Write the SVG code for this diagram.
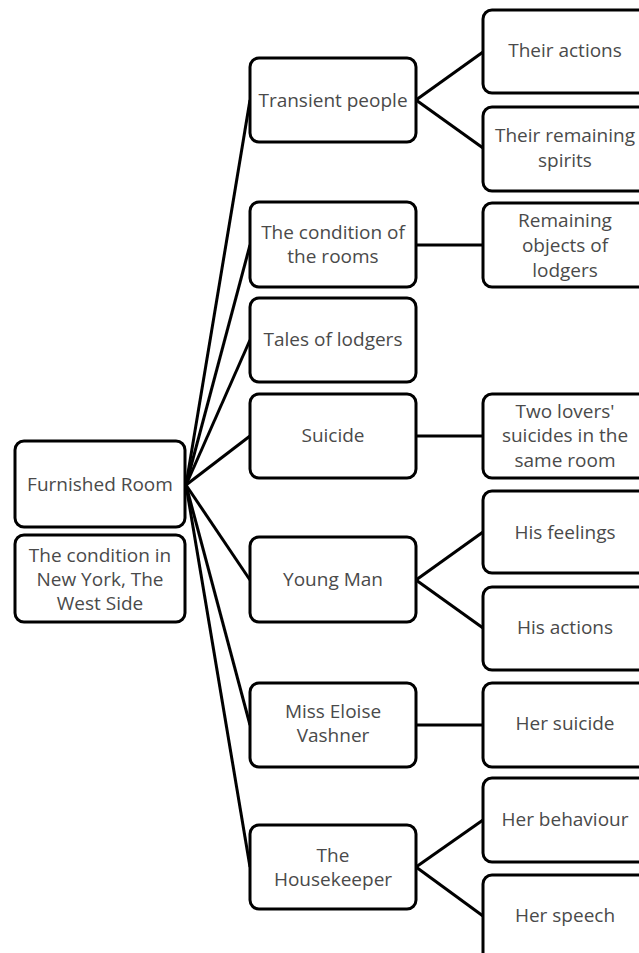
<svg xmlns="http://www.w3.org/2000/svg" width="639" height="953" viewBox="0 0 639 953">
<style>
.box{fill:#fff;stroke:#000;stroke-width:3}
.t{font-family:"Open Sans","Noto Sans",sans-serif;font-size:19px;fill:#4a4a4a;text-anchor:middle}
.c{stroke:#000;stroke-width:3;fill:none}
</style>
<rect width="639" height="953" fill="#fff"/>
<g id="connectors">
<line class="c" x1="186" y1="485" x2="250" y2="100"/>
<line class="c" x1="186" y1="485" x2="250" y2="245"/>
<line class="c" x1="186" y1="485" x2="250" y2="340"/>
<line class="c" x1="186" y1="485" x2="250" y2="436"/>
<line class="c" x1="186" y1="485" x2="250" y2="580"/>
<line class="c" x1="186" y1="485" x2="250" y2="725"/>
<line class="c" x1="186" y1="485" x2="250" y2="867"/>
<line class="c" x1="416" y1="100" x2="483" y2="52"/>
<line class="c" x1="416" y1="100" x2="483" y2="148"/>
<line class="c" x1="416" y1="245" x2="483" y2="245"/>
<line class="c" x1="416" y1="436" x2="483" y2="436"/>
<line class="c" x1="416" y1="580" x2="483" y2="532"/>
<line class="c" x1="416" y1="580" x2="483" y2="628"/>
<line class="c" x1="416" y1="725" x2="483" y2="725"/>
<line class="c" x1="416" y1="867" x2="483" y2="820"/>
<line class="c" x1="416" y1="867" x2="483" y2="916"/>
</g>
<g id="furnished-room"><rect class="box" x="15" y="441" width="170" height="86" rx="9"/><text class="t" x="100" y="491">Furnished Room</text></g>
<g id="new-york"><rect class="box" x="15" y="535" width="170" height="87" rx="9"/><text class="t" x="100" y="562">The condition in</text><text class="t" x="100" y="586">New York, The</text><text class="t" x="100" y="610">West Side</text></g>
<g id="transient"><rect class="box" x="250" y="58" width="166" height="84" rx="9"/><text class="t" x="333" y="107">Transient people</text></g>
<g id="their-actions"><rect class="box" x="483" y="10" width="166" height="83" rx="9"/><text class="t" x="565" y="57">Their actions</text></g>
<g id="their-spirits"><rect class="box" x="483" y="107" width="166" height="84" rx="9"/><text class="t" x="565" y="142">Their remaining</text><text class="t" x="565" y="167">spirits</text></g>
<g id="condition-rooms"><rect class="box" x="250" y="202" width="166" height="85" rx="9"/><text class="t" x="333" y="239">The condition of</text><text class="t" x="333" y="263">the rooms</text></g>
<g id="remaining-objects"><rect class="box" x="483" y="203" width="166" height="84" rx="9"/><text class="t" x="565" y="227">Remaining</text><text class="t" x="565" y="252">objects of</text><text class="t" x="565" y="277">lodgers</text></g>
<g id="tales"><rect class="box" x="250" y="298" width="166" height="84" rx="9"/><text class="t" x="333" y="346">Tales of lodgers</text></g>
<g id="suicide"><rect class="box" x="250" y="394" width="166" height="84" rx="9"/><text class="t" x="333" y="442">Suicide</text></g>
<g id="two-lovers"><rect class="box" x="483" y="394" width="166" height="84" rx="9"/><text class="t" x="565" y="418">Two lovers'</text><text class="t" x="565" y="442">suicides in the</text><text class="t" x="565" y="467">same room</text></g>
<g id="young-man"><rect class="box" x="250" y="537" width="166" height="85" rx="9"/><text class="t" x="333" y="586">Young Man</text></g>
<g id="his-feelings"><rect class="box" x="483" y="491" width="166" height="82" rx="9"/><text class="t" x="565" y="539">His feelings</text></g>
<g id="his-actions"><rect class="box" x="483" y="587" width="166" height="83" rx="9"/><text class="t" x="565" y="634">His actions</text></g>
<g id="miss-eloise"><rect class="box" x="250" y="683" width="166" height="84" rx="9"/><text class="t" x="333" y="718">Miss Eloise</text><text class="t" x="333" y="742">Vashner</text></g>
<g id="her-suicide"><rect class="box" x="483" y="683" width="166" height="84" rx="9"/><text class="t" x="565" y="730">Her suicide</text></g>
<g id="housekeeper"><rect class="box" x="250" y="825" width="166" height="84" rx="9"/><text class="t" x="333" y="862">The</text><text class="t" x="333" y="886">Housekeeper</text></g>
<g id="her-behaviour"><rect class="box" x="483" y="778" width="166" height="84" rx="9"/><text class="t" x="565" y="826">Her behaviour</text></g>
<g id="her-speech"><rect class="box" x="483" y="875" width="166" height="90" rx="9"/><text class="t" x="565" y="922">Her speech</text></g>
</svg>
